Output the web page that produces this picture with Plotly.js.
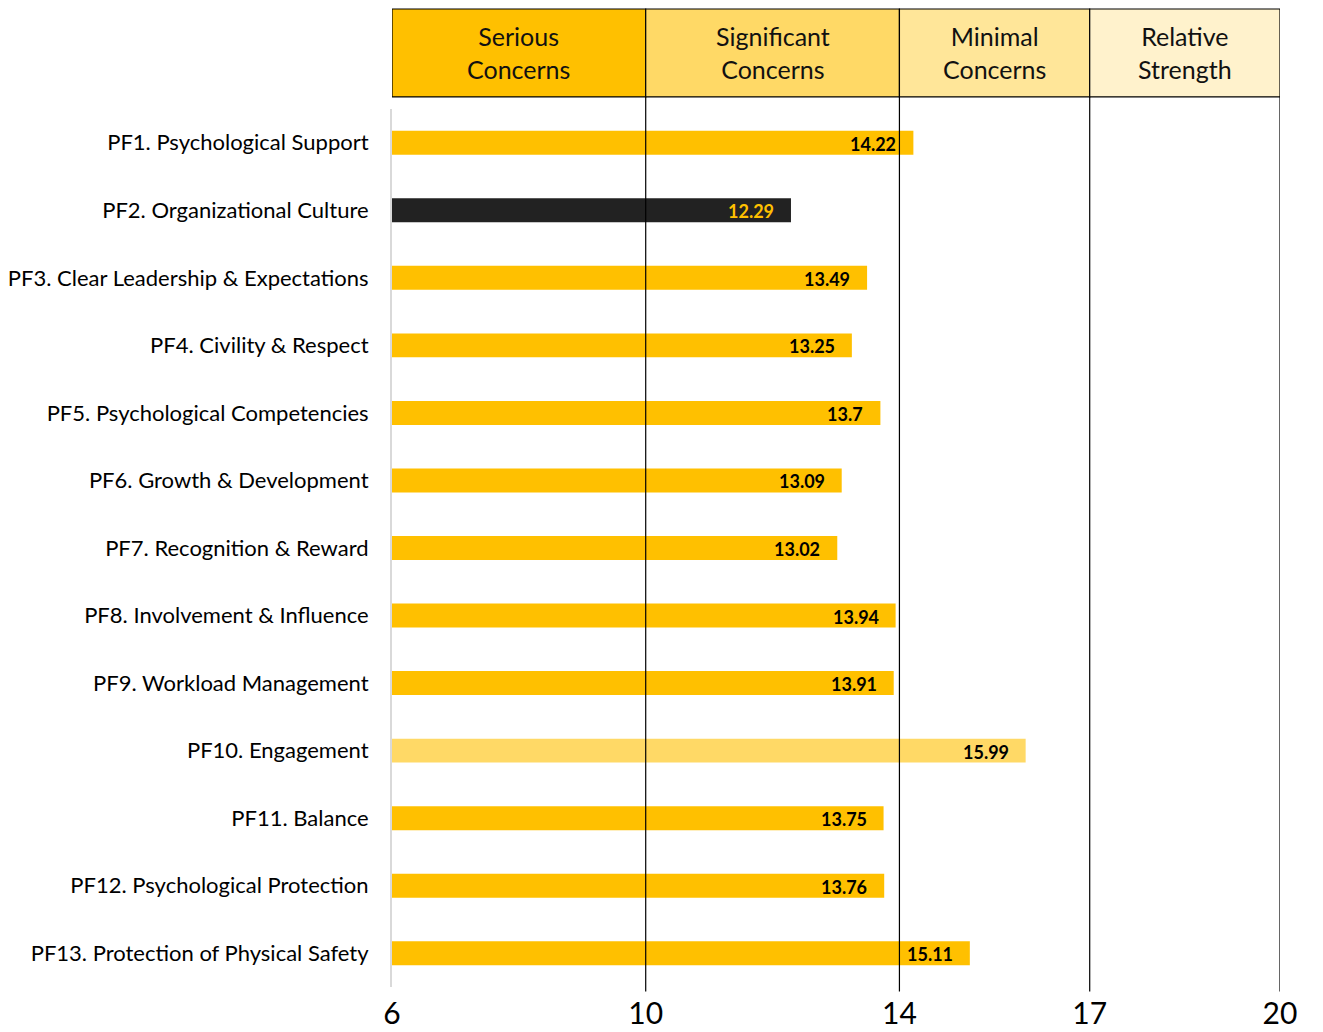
<!DOCTYPE html>
<html>
<head>
<meta charset="utf-8">
<script src="https://cdn.plot.ly/plotly-3.0.1.min.js"></script>
<style>
  html, body { margin: 0; padding: 0; background: #ffffff; }
  #chart { width: 1323px; height: 1032px; }
</style>
</head>
<body>
<div id="chart"></div>
<script>
// Psychosocial factor scores (scale 6–20)
const categories = [
  "PF1. Psychological Support",
  "PF2. Organizational Culture",
  "PF3. Clear Leadership & Expectations",
  "PF4. Civility & Respect",
  "PF5. Psychological Competencies",
  "PF6. Growth & Development",
  "PF7. Recognition & Reward",
  "PF8. Involvement & Influence",
  "PF9. Workload Management",
  "PF10. Engagement",
  "PF11. Balance",
  "PF12. Psychological Protection",
  "PF13. Protection of Physical Safety"
];
const scores = [14.22, 12.29, 13.49, 13.25, 13.7, 13.09, 13.02, 13.94, 13.91, 15.99, 13.75, 13.76, 15.11];

// Rating bands: edges on the score scale and their names
const bandEdges = [6, 10, 14, 17, 20];
const bandLabels = ["Serious<br>Concerns", "Significant<br>Concerns", "Minimal<br>Concerns", "Relative<br>Strength"];

// Colours
const GOLD = "#FFC000";
const LIGHT_GOLD = "#FFD966";
const DARK = "#222222";
const bandFills = ["#FFC000", "#FFD966", "#FFE699", "#FFF2CC"];
const FONT = "Lato, 'Open Sans', 'Liberation Sans', sans-serif";

// The weakest factor is shown dark, the strongest in a lighter gold
const minScore = Math.min(...scores);
const maxScore = Math.max(...scores);
const barColors = scores.map(s => s === minScore ? DARK : (s === maxScore ? LIGHT_GOLD : GOLD));
const labelColors = scores.map(s => s === minScore ? GOLD : "#000000");

const trace = {
  type: "bar",
  orientation: "h",
  x: scores,
  y: categories,
  marker: { color: barColors, line: { width: 0 } },
  hoverinfo: "x+y",
  showlegend: false
};

// Value labels sit just inside the end of each bar
const valueLabels = scores.map((s, i) => ({
  x: s,
  y: categories[i],
  xref: "x",
  yref: "y",
  text: String(s),
  showarrow: false,
  xanchor: "right",
  xshift: -15,
  yshift: -1,
  font: { family: FONT, size: 18, color: labelColors[i], weight: 700 }
}));

// Header band boxes and their titles
const headerBottom = 1.0137;
const headerTop = 1.1139;
const headerShapes = bandLabels.map((_, i) => ({
  type: "rect",
  xref: "x",
  yref: "paper",
  x0: bandEdges[i],
  x1: bandEdges[i + 1],
  y0: headerBottom,
  y1: headerTop,
  fillcolor: bandFills[i],
  line: { color: "#000000", width: 1.2 },
  layer: "above"
}));
const headerText = bandLabels.map((t, i) => ({
  x: (bandEdges[i] + bandEdges[i + 1]) / 2,
  y: (headerBottom + headerTop) / 2,
  xref: "x",
  yref: "paper",
  text: t,
  showarrow: false,
  xanchor: "center",
  yanchor: "middle",
  font: { family: FONT, size: 25, color: "#111111" }
}));

// Band boundary lines running down through the bars
const boundaryLines = bandEdges.slice(1).map(e => ({
  type: "line",
  xref: "x",
  yref: "paper",
  x0: e,
  x1: e,
  y0: -0.005,
  y1: headerBottom,
  line: { color: "#000000", width: 1.2 },
  layer: "above"
}));

const layout = {
  width: 1323,
  height: 1032,
  margin: { l: 392, r: 43, t: 109, b: 45, pad: 0 },
  paper_bgcolor: "#ffffff",
  plot_bgcolor: "#ffffff",
  bargap: 0.645,
  font: { family: FONT, color: "#000000" },
  xaxis: {
    range: [bandEdges[0], bandEdges[bandEdges.length - 1]],
    tickmode: "array",
    tickvals: bandEdges,
    ticktext: bandEdges.map(String),
    showgrid: false,
    zeroline: false,
    showline: false,
    ticks: "",
    ticklabelstandoff: 6,
    tickfont: { family: FONT, size: 30, color: "#000000" },
    fixedrange: true
  },
  yaxis: {
    type: "category",
    autorange: "reversed",
    showgrid: false,
    zeroline: false,
    showline: true,
    linecolor: "#D9D9D9",
    linewidth: 2,
    ticks: "",
    ticklabelstandoff: 17,
    tickfont: { family: FONT, size: 22, color: "#000000" },
    fixedrange: true
  },
  shapes: [...boundaryLines, ...headerShapes],
  annotations: [...valueLabels, ...headerText]
};

Plotly.newPlot("chart", [trace], layout, { displayModeBar: false, staticPlot: true });
</script>
</body>
</html>
